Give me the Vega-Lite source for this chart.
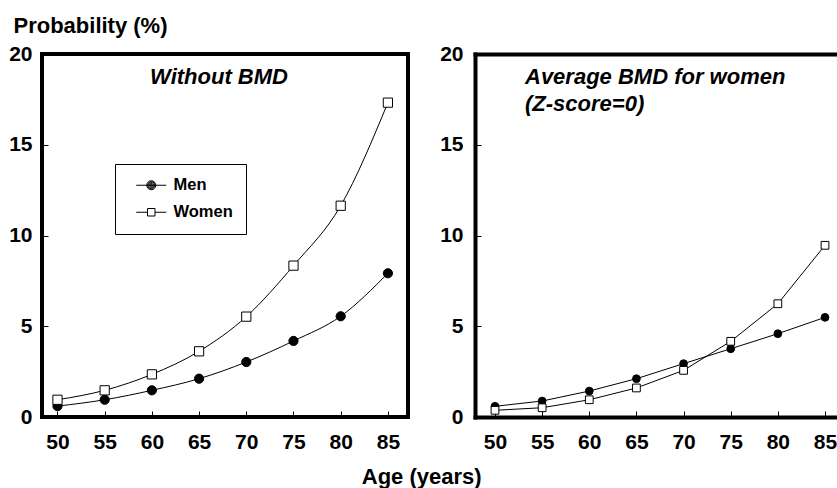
{
  "$schema": "https://vega.github.io/schema/vega-lite/v6.json",
  "padding": {"left": 6, "top": 12, "right": 0, "bottom": 5},
  "background": "white",
  "config": {
    "font": "Liberation Sans",
    "view": {"stroke": null},
    "axis": {
      "labelFont": "Liberation Sans",
      "labelFontWeight": "bold",
      "labelFontSize": 21,
      "labelColor": "black",
      "tickColor": "black",
      "domainColor": "black",
      "grid": false,
      "tickSize": -6,
      "tickWidth": 1
    }
  },
  "title": {
    "text": "Age (years)",
    "orient": "bottom",
    "anchor": "middle",
    "fontSize": 22,
    "fontWeight": "bold",
    "font": "Liberation Sans",
    "color": "black",
    "offset": 13
  },
  "datasets": {
    "left": [
      {"age": 50, "prob": 0.6, "sex": "Men"},
      {"age": 55, "prob": 0.95, "sex": "Men"},
      {"age": 60, "prob": 1.47, "sex": "Men"},
      {"age": 65, "prob": 2.11, "sex": "Men"},
      {"age": 70, "prob": 3.03, "sex": "Men"},
      {"age": 75, "prob": 4.19, "sex": "Men"},
      {"age": 80, "prob": 5.55, "sex": "Men"},
      {"age": 85, "prob": 7.92, "sex": "Men"},
      {"age": 50, "prob": 0.95, "sex": "Women"},
      {"age": 55, "prob": 1.47, "sex": "Women"},
      {"age": 60, "prob": 2.35, "sex": "Women"},
      {"age": 65, "prob": 3.62, "sex": "Women"},
      {"age": 70, "prob": 5.53, "sex": "Women"},
      {"age": 75, "prob": 8.34, "sex": "Women"},
      {"age": 80, "prob": 11.64, "sex": "Women"},
      {"age": 85, "prob": 17.32, "sex": "Women"}
    ],
    "right": [
      {"age": 50, "prob": 0.59, "sex": "Men"},
      {"age": 55, "prob": 0.88, "sex": "Men"},
      {"age": 60, "prob": 1.43, "sex": "Men"},
      {"age": 65, "prob": 2.11, "sex": "Men"},
      {"age": 70, "prob": 2.94, "sex": "Men"},
      {"age": 75, "prob": 3.76, "sex": "Men"},
      {"age": 80, "prob": 4.59, "sex": "Men"},
      {"age": 85, "prob": 5.49, "sex": "Men"},
      {"age": 50, "prob": 0.37, "sex": "Women"},
      {"age": 55, "prob": 0.51, "sex": "Women"},
      {"age": 60, "prob": 0.95, "sex": "Women"},
      {"age": 65, "prob": 1.6, "sex": "Women"},
      {"age": 70, "prob": 2.57, "sex": "Women"},
      {"age": 75, "prob": 4.17, "sex": "Women"},
      {"age": 80, "prob": 6.24, "sex": "Women"},
      {"age": 85, "prob": 9.46, "sex": "Women"}
    ]
  },
  "spacing": 67,
  "bounds": "flush",
  "resolve": {
    "scale": {"shape": "independent"},
    "legend": {"shape": "independent"}
  },
  "hconcat": [
    {
      "width": 366,
      "height": 363,
      "data": {"name": "left"},
      "view": {"stroke": "black", "strokeWidth": 4},
      "title": {
        "text": "Without BMD",
        "anchor": "middle",
        "dx": -6,
        "offset": -92,
        "fontStyle": "italic",
        "fontWeight": "bold",
        "fontSize": 22,
        "font": "Liberation Sans",
        "baseline": "alphabetic",
        "color": "black"
      },
      "encoding": {
        "x": {
          "field": "age",
          "type": "quantitative",
          "scale": {"domain": [48.36, 87.13], "nice": false, "zero": false},
          "axis": {"values": [50, 55, 60, 65, 70, 75, 80, 85], "domain": false, "title": null, "labelPadding": 20}
        },
        "y": {
          "field": "prob",
          "type": "quantitative",
          "scale": {"domain": [0, 20], "nice": false},
          "axis": {
            "values": [0, 5, 10, 15, 20],
            "domain": false,
            "title": "Probability (%)",
            "titleAngle": 0,
            "titleX": -29,
            "titleY": -22,
            "titleAlign": "left",
            "titleBaseline": "alphabetic",
            "titleFontSize": 22,
            "titleFontWeight": "bold",
            "titleFont": "Liberation Sans",
            "titleColor": "black",
            "labelPadding": 16
          }
        }
      },
      "layer": [
        {
          "mark": {"type": "line", "color": "black", "strokeWidth": 1, "interpolate": "monotone"},
          "encoding": {"detail": {"field": "sex"}}
        },
        {
          "mark": {"type": "point", "filled": false, "color": "black", "strokeWidth": 1, "opacity": 0},
          "encoding": {
            "shape": {
              "field": "sex",
              "type": "nominal",
              "scale": {
                "domain": ["Men", "Women"],
                "range": [
                  "M-2,0L2,0M-0.6,0A0.6,0.6,0,1,1,0.6,0A0.6,0.6,0,1,1,-0.6,0ZM-0.48,0A0.48,0.48,0,1,1,0.48,0A0.48,0.48,0,1,1,-0.48,0ZM-0.36,0A0.36,0.36,0,1,1,0.36,0A0.36,0.36,0,1,1,-0.36,0ZM-0.24,0A0.24,0.24,0,1,1,0.24,0A0.24,0.24,0,1,1,-0.24,0ZM-0.12,0A0.12,0.12,0,1,1,0.12,0A0.12,0.12,0,1,1,-0.12,0ZM-0.04,0A0.04,0.04,0,1,1,0.04,0A0.04,0.04,0,1,1,-0.04,0Z",
                  "M-2,0L-0.5,0M0.5,0L2,0M-0.5,-0.5L0.5,-0.5L0.5,0.5L-0.5,0.5Z"
                ]
              },
              "legend": {
                "orient": "none",
                "legendX": 73,
                "legendY": 110,
                "title": null,
                "strokeColor": "black",
                "padding": 13,
                "labelFont": "Liberation Sans",
                "labelFontSize": 16.5,
                "labelFontWeight": "bold",
                "labelColor": "black",
                "symbolSize": 225,
                "symbolOffset": 15,
                "labelOffset": 14,
                "rowPadding": 10,
                "symbolOpacity": 1,
                "symbolStrokeWidth": 1,
                "encode": {
                  "legend": {"strokeWidth": {"value": 1.5}}
                }
              }
            }
          }
        },
        {
          "mark": {"type": "point", "filled": true, "stroke": "black", "strokeWidth": 1, "size": 85, "opacity": 1},
          "encoding": {
            "shape": {"condition": {"test": "datum.sex === 'Men'", "value": "circle"}, "value": "square"},
            "fill": {"condition": {"test": "datum.sex === 'Men'", "value": "black"}, "value": "white"}
          }
        }
      ]
    },
    {
      "width": 360,
      "height": 363,
      "data": {"name": "right"},
      "title": {
        "text": ["Average BMD for women", "(Z-score=0)"],
        "anchor": "start",
        "frame": "group",
        "dx": 50,
        "offset": -90,
        "lineHeight": 27,
        "fontStyle": "italic",
        "fontWeight": "bold",
        "fontSize": 22,
        "font": "Liberation Sans",
        "baseline": "alphabetic",
        "color": "black"
      },
      "resolve": {"axis": {"x": "independent"}},
      "layer": [
        {
          "mark": {"type": "line", "color": "black", "strokeWidth": 1, "interpolate": "linear"},
          "encoding": {
            "x": {
              "field": "age",
              "type": "quantitative",
              "scale": {"domain": [47.88, 86.06], "nice": false, "zero": false},
              "axis": {"orient": "bottom", "values": [50, 55, 60, 65, 70, 75, 80, 85], "domain": true, "domainWidth": 4, "domainCap": "square", "title": null, "labelPadding": 20}
            },
            "y": {
              "field": "prob",
              "type": "quantitative",
              "scale": {"domain": [0, 20], "nice": false},
              "axis": {"values": [0, 5, 10, 15, 20], "domain": true, "domainWidth": 4, "domainCap": "square", "title": null, "labelPadding": 18}
            },
            "detail": {"field": "sex"}
          }
        },
        {
          "mark": {"type": "point", "filled": true, "stroke": "black", "strokeWidth": 1, "size": 60, "opacity": 1},
          "encoding": {
            "x": {
              "field": "age",
              "type": "quantitative",
              "axis": {"orient": "top", "labels": false, "ticks": false, "domain": true, "domainWidth": 4, "domainCap": "square", "title": null}
            },
            "y": {"field": "prob", "type": "quantitative"},
            "shape": {"condition": {"test": "datum.sex === 'Men'", "value": "circle"}, "value": "square"},
            "fill": {"condition": {"test": "datum.sex === 'Men'", "value": "black"}, "value": "white"}
          }
        }
      ]
    }
  ]
}
